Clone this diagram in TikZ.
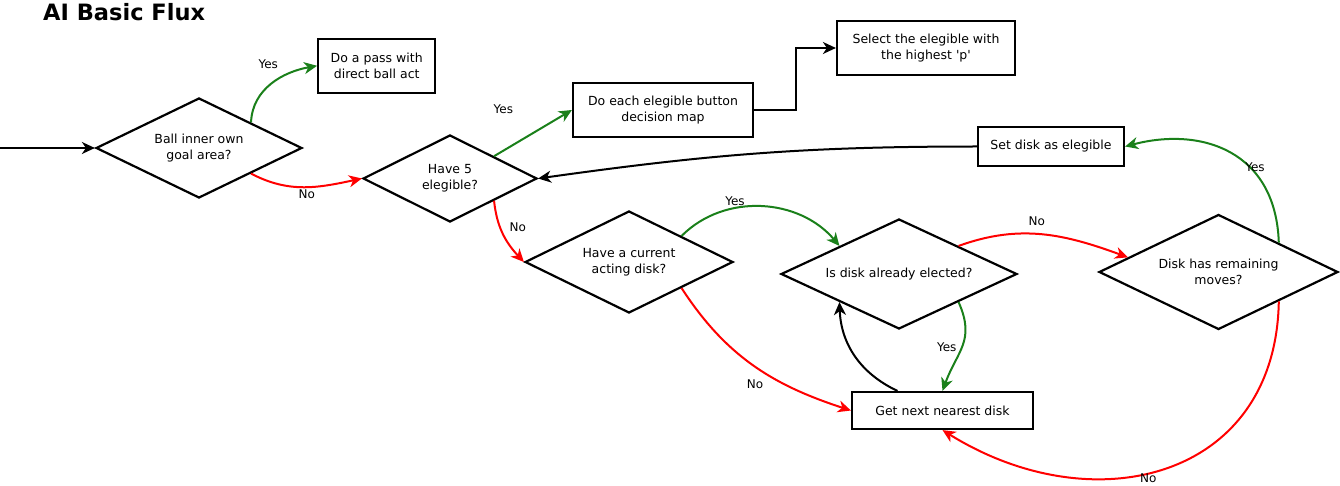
\documentclass[tikz,border=0pt]{standalone}
\usepackage{fontspec}
\setmainfont{DejaVu Sans}
\usetikzlibrary{shapes.geometric,arrows.meta,calc}
\definecolor{yesgreen}{RGB}{26,128,26}
\definecolor{nored}{RGB}{255,0,0}
\begin{document}
\begin{tikzpicture}[x=1pt,y=1pt,
  txt/.style={font=\fontsize{12.5}{16}\selectfont},
  decision/.style={txt, diamond, draw, line width=2.2pt, inner sep=0pt, aspect=2, align=center},
  action/.style={txt, rectangle, draw, line width=2.2pt, inner sep=0pt, align=center},
  link/.style={line width=2pt, -{Stealth[length=13pt,width=12pt,inset=4pt]}},
  yesarrow/.style={link, draw=yesgreen},
  noarrow/.style={link, draw=nored},
  plainarrow/.style={link, draw=black},
  lbl/.style={font=\fontsize{12}{14}\selectfont, inner sep=0pt, text height=8.75pt, text depth=0pt},
  title/.style={font=\fontsize{22.5}{26}\selectfont\bfseries, inner sep=0pt}
]
\useasboundingbox (0,0) rectangle (1340,-486);
\node[title, anchor=base west] (ttl) at (43,-21) {AI Basic Flux};

\node[decision, minimum width=206pt, minimum height=100pt] (d1) at (199,-148) {Ball inner own\\goal area?};
\node[action, minimum width=117pt, minimum height=54pt] (b1) at (376.7,-65.8) {Do a pass with\\direct ball act};
\node[decision, minimum width=174pt, minimum height=87pt] (d2) at (450,-178.5) {Have 5\\elegible?};
\node[action, minimum width=180pt, minimum height=54pt] (b2) at (663,-110) {Do each elegible button\\decision map};
\node[action, minimum width=178pt, minimum height=54pt] (b3) at (926,-48) {Select the elegible with\\the highest \textquotesingle p\textquotesingle};
\node[action, minimum width=146pt, minimum height=39pt] (b4) at (1051,-146.5) {Set disk as elegible};
\node[decision, minimum width=208pt, minimum height=102pt] (d3) at (629,-262) {Have a current\\acting disk?};
\node[decision, minimum width=236pt, minimum height=110pt] (d4) at (899,-274) {Is disk already elected?};
\node[decision, minimum width=239pt, minimum height=115pt] (d5) at (1218.5,-272) {Disk has remaining\\moves?};
\node[action, minimum width=181pt, minimum height=37pt] (b5) at (942.5,-410.5) {Get next nearest disk};

\coordinate (entry) at (0,-148);
\draw[plainarrow] (entry) -- (d1.west);
\draw[yesarrow] ($(d1.north)!0.5!(d1.east)$) to[out=88,in=190] (b1.west);
\draw[noarrow] ($(d1.east)!0.5!(d1.south)$) to[out=-28,in=192] (d2.west);
\draw[yesarrow] ($(d2.north)!0.5!(d2.east)$) -- (b2.west);
\draw[noarrow] ($(d2.east)!0.5!(d2.south)$) to[out=-84,in=133] (d3.west);
\draw[plainarrow] (b2.east) -- ++(42,0) |- (b3.west);
\draw[plainarrow] (b4.west) to[out=180,in=8] (d2.east);
\draw[yesarrow] ($(d3.north)!0.5!(d3.east)$) to[out=45,in=130] ($(d4.west)!0.5!(d4.north)$);
\draw[noarrow] ($(d3.east)!0.5!(d3.south)$) to[out=-57,in=162] (b5.west);
\draw[noarrow] ($(d4.north)!0.5!(d4.east)$) to[out=20,in=160] ($(d5.west)!0.25!(d5.north)$);
\draw[yesarrow] ($(d4.east)!0.5!(d4.south)$) to[out=-66,in=70,looseness=1.2] (b5.north);
\draw[plainarrow] ([xshift=-45pt]b5.north) to[out=155,in=-88] ($(d4.west)!0.5!(d4.south)$);
\draw[yesarrow] ($(d5.north)!0.5!(d5.east)$) .. controls +(-3,92) and +(76,20) .. (b4.east);
\draw[noarrow] ($(d5.east)!0.5!(d5.south)$) .. controls +(-3,-178) and +(151,-94) .. (b5.south);

\node[lbl] (ly1) at (268.3,-64.3) {Yes};
\node[lbl] (ln1) at (306.7,-194.3) {No};
\node[lbl] (ly2) at (503.3,-109.3) {Yes};
\node[lbl] (ln2) at (517.7,-226.7) {No};
\node[lbl] (ly3) at (735,-200.7) {Yes};
\node[lbl] (ln3) at (755,-384.3) {No};
\node[lbl] (ly4) at (946.7,-346.7) {Yes};
\node[lbl] (ln4) at (1036.7,-220.7) {No};
\node[lbl] (ly5) at (1255,-166.7) {Yes};
\node[lbl] (ln5) at (1148.3,-477.7) {No};
\end{tikzpicture}
\end{document}
